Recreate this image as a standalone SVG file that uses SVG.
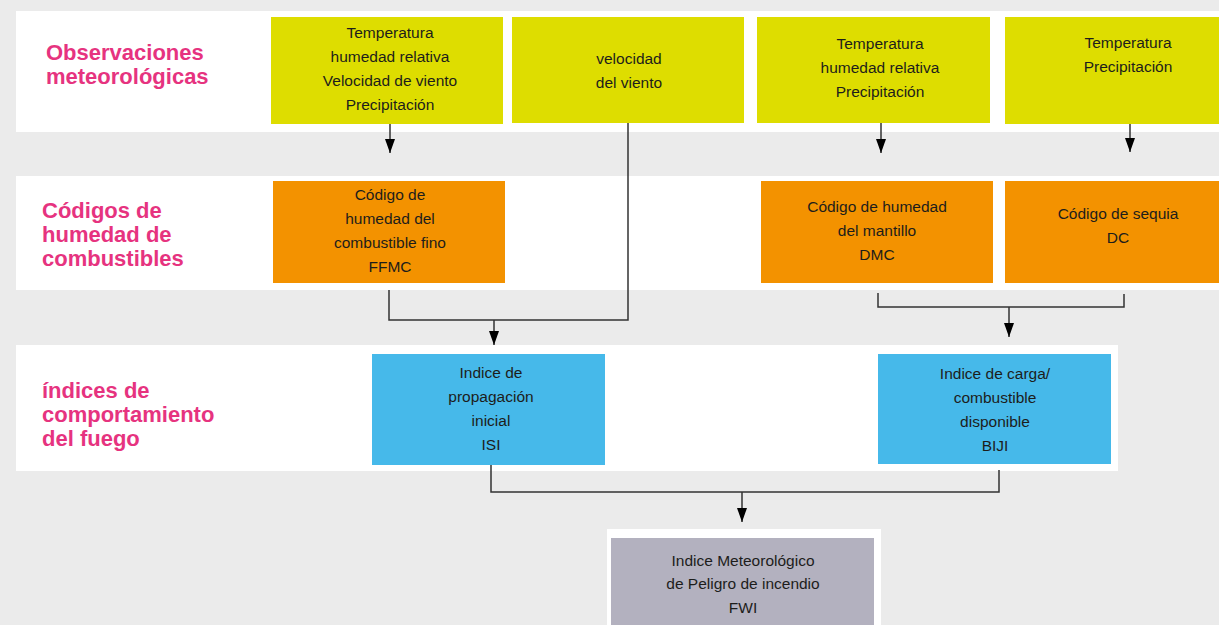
<svg xmlns="http://www.w3.org/2000/svg" width="1219" height="625" viewBox="0 0 1219 625">
<defs>
<style>
.band{fill:#ffffff}
.y{fill:#dedd00}
.o{fill:#f39200}
.b{fill:#46b9ea}
.g{fill:#b3b1bf}
.t{font-family:"Liberation Sans",Arial,sans-serif;font-size:15.5px;fill:#1d1d1b;text-anchor:middle}
.lbl{font-family:"Liberation Sans",Arial,sans-serif;font-size:22px;font-weight:bold;fill:#e6337f}
.c{fill:none;stroke:#333333;stroke-width:1.5}
</style>
<marker id="ah" viewBox="0 0 14 10" refX="14" refY="5" markerWidth="14" markerHeight="10" markerUnits="userSpaceOnUse" orient="auto">
<path d="M0,0 L14,5 L0,10 Z" fill="#000000"/>
</marker>
</defs>
<rect x="0" y="0" width="1219" height="625" fill="#ebebeb"/>
<rect class="band" x="16" y="11" width="1203" height="121"/>
<rect class="band" x="16" y="176" width="1203" height="114"/>
<rect class="band" x="16" y="345" width="1102" height="126"/>
<rect class="band" x="607" y="529" width="274" height="96"/>

<g id="lbl-obs"><text class="lbl" x="46" y="60">Observaciones</text><text class="lbl" x="46" y="84">meteorológicas</text></g>
<g id="lbl-cod"><text class="lbl" x="42" y="218">Códigos de</text><text class="lbl" x="42" y="242">humedad de</text><text class="lbl" x="42" y="266">combustibles</text></g>
<g id="lbl-ind"><text class="lbl" x="42" y="398">índices de</text><text class="lbl" x="42" y="422">comportamiento</text><text class="lbl" x="42" y="446">del fuego</text></g>

<g id="obs1"><rect class="y" x="271" y="17" width="232" height="107"/>
<text class="t" x="390" y="38">Temperatura</text><text class="t" x="390" y="62">humedad relativa</text><text class="t" x="390" y="86">Velocidad de viento</text><text class="t" x="390" y="110">Precipitación</text></g>
<g id="obs2"><rect class="y" x="512" y="17" width="232" height="106"/>
<text class="t" x="629" y="64">velocidad</text><text class="t" x="629" y="88">del viento</text></g>
<g id="obs3"><rect class="y" x="757" y="17" width="233" height="106"/>
<text class="t" x="880" y="49">Temperatura</text><text class="t" x="880" y="73">humedad relativa</text><text class="t" x="880" y="97">Precipitación</text></g>
<g id="obs4"><rect class="y" x="1005" y="17" width="214" height="107"/>
<text class="t" x="1128" y="48">Temperatura</text><text class="t" x="1128" y="72">Precipitación</text></g>

<g id="ffmc"><rect class="o" x="273" y="181" width="232" height="102"/>
<text class="t" x="390" y="200">Código de</text><text class="t" x="390" y="224">humedad del</text><text class="t" x="390" y="248">combustible fino</text><text class="t" x="390" y="272">FFMC</text></g>
<g id="dmc"><rect class="o" x="761" y="181" width="232" height="102"/>
<text class="t" x="877" y="212">Código de humedad</text><text class="t" x="877" y="236">del mantillo</text><text class="t" x="877" y="260">DMC</text></g>
<g id="dc"><rect class="o" x="1005" y="181" width="214" height="102"/>
<text class="t" x="1118" y="219">Código de sequia</text><text class="t" x="1118" y="243">DC</text></g>

<g id="isi"><rect class="b" x="372" y="354" width="233" height="111"/>
<text class="t" x="491" y="378">Indice de</text><text class="t" x="491" y="402">propagación</text><text class="t" x="491" y="426">inicial</text><text class="t" x="491" y="450">ISI</text></g>
<g id="biji"><rect class="b" x="878" y="354" width="233" height="110"/>
<text class="t" x="995" y="379">Indice de carga/</text><text class="t" x="995" y="403">combustible</text><text class="t" x="995" y="427">disponible</text><text class="t" x="995" y="451">BIJI</text></g>
<g id="fwi"><rect class="g" x="611" y="538" width="263" height="87"/>
<text class="t" x="743" y="566">Indice Meteorológico</text><text class="t" x="743" y="589">de Peligro de incendio</text><text class="t" x="743" y="613">FWI</text></g>

<g id="connectors">
<path class="c" d="M390,124 V153" marker-end="url(#ah)"/>
<path class="c" d="M881,123 V153" marker-end="url(#ah)"/>
<path class="c" d="M1130,124 V152" marker-end="url(#ah)"/>
<path class="c" d="M389,290 V320 H628 V123"/>
<path class="c" d="M494,320 V345" marker-end="url(#ah)"/>
<path class="c" d="M878,293 V307 H1124 V294"/>
<path class="c" d="M1009,307 V337" marker-end="url(#ah)"/>
<path class="c" d="M491,465 V492 H999 V470"/>
<path class="c" d="M742,492 V522" marker-end="url(#ah)"/>
</g>
</svg>
